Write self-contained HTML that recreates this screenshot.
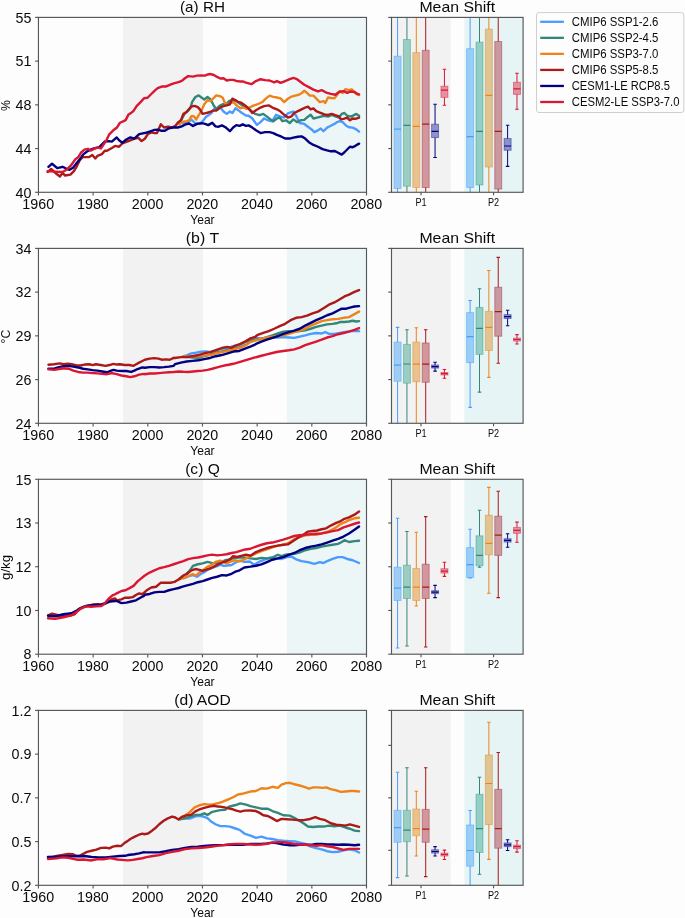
<!DOCTYPE html><html><head><meta charset="utf-8"><style>html,body{margin:0;padding:0;background:#fdfdfd;width:685px;height:918px;overflow:hidden}svg{display:block}text{font-family:"Liberation Sans",sans-serif;fill:#0a0a0a}</style></head><body>
<svg style="will-change:transform" width="685" height="918" viewBox="0 0 685 918">
<rect width="685" height="918" fill="#fdfdfd"/>
<defs>
<clipPath id="cl0"><rect x="38.45" y="17.4" width="328.05" height="174.9"/></clipPath>
<clipPath id="cb0"><rect x="391.5" y="17.4" width="131.6" height="174.9"/></clipPath>
<clipPath id="cl1"><rect x="38.45" y="248.4" width="328.05" height="174.9"/></clipPath>
<clipPath id="cb1"><rect x="391.5" y="248.4" width="131.6" height="174.9"/></clipPath>
<clipPath id="cl2"><rect x="38.45" y="479.3" width="328.05" height="174.9"/></clipPath>
<clipPath id="cb2"><rect x="391.5" y="479.3" width="131.6" height="174.9"/></clipPath>
<clipPath id="cl3"><rect x="38.45" y="710.4" width="328.05" height="174.9"/></clipPath>
<clipPath id="cb3"><rect x="391.5" y="710.4" width="131.6" height="174.9"/></clipPath>
</defs>
<rect x="123.1" y="17.4" width="79.8" height="174.9" fill="#f2f2f2"/>
<rect x="286.9" y="17.4" width="79.6" height="174.9" fill="#edf6f7"/>
<g clip-path="url(#cl0)" fill="none" stroke-width="2.4" stroke-linejoin="round" stroke-linecap="round">
<path d="M183.36 123.51 L187.37 122.7 L191.39 119.49 L195.4 123.51 L200.22 123.51 L203.43 120.3 L205.84 117.08 L209.05 114.67 L211.46 113.07 L213.87 109.05 L217.08 108.25 L220.3 107.45 L223.51 111.46 L226.72 113.87 L229.93 111.46 L232.34 113.07 L235.55 108.25 L238.76 110.66 L241.98 113.07 L245.99 115.48 L248.65 115.73 L252.3 118.47 L256.86 124.85 L260.51 122.12 L264.16 118.47 L267.81 120.29 L272.37 121.2 L276.02 114.82 L280.58 116.64 L284.23 117.55 L287.88 113.36 L291.53 112.08 L293.36 111.53 L296.09 115.73 L299.74 123.03 L304.31 123.94 L307.96 126.68 L311.61 129.42 L314.34 132.15 L317.99 130.33 L320.73 128.5 L323.47 131.24 L327.12 127.59 L330.77 125.77 L334.42 123.94 L337.15 122.12 L339.89 121.2 L342.63 122.12 L346.28 125.77 L349.01 127.23 L352.66 127.59 L356.31 129.42 L359.05 131.61" stroke="#4b9bff"/>
<path d="M180.95 120.3 L184.97 113.07 L188.18 110.66 L190.59 107.45 L192.19 101.83 L195.4 97.01 L198.62 95.4 L201.83 97.81 L204.24 99.42 L207.45 97.01 L210.66 99.42 L213.87 105.84 L216.28 109.05 L219.49 105.84 L222.7 104.24 L225.92 104.24 L229.13 101.02 L233.14 100.22 L236.35 101.02 L239.57 103.43 L242.78 105.84 L245.99 106.65 L250.47 110.26 L255.04 113.91 L259.6 115.18 L263.25 113.91 L266.9 116.64 L270.55 119.38 L273.28 121.2 L276.93 118.47 L279.67 117.55 L282.41 121.2 L286.06 120.29 L289.71 123.03 L293.36 119.38 L297.01 122.12 L300.66 120.29 L304.31 119.93 L307.96 116.64 L310.69 114.82 L313.43 118.47 L317.08 117.55 L320.73 116.64 L324.38 115.73 L328.03 116.64 L331.68 114.82 L335.33 116.28 L338.98 117.55 L341.72 113.91 L344.45 112.99 L347.19 115.73 L350.84 116.64 L354.49 114.82 L356.31 113.91 L359.05 115.73" stroke="#32877a"/>
<path d="M179.34 124.31 L182.56 121.9 L186.57 121.1 L188.98 120.3 L191.39 116.28 L193.8 116.28 L196.21 119.49 L198.62 115.48 L201.83 109.86 L204.24 104.24 L207.45 100.22 L210.66 101.02 L213.87 97.81 L216.28 95.4 L220.3 96.21 L222.7 97.81 L225.11 103.43 L227.52 105.04 L230.73 102.63 L233.95 102.63 L237.16 105.84 L240.37 108.25 L243.58 107.45 L246.79 109.05 L249.56 107.52 L253.21 105.69 L257.77 104.23 L262.34 102.04 L265.99 98.39 L269.64 95.66 L273.28 96.93 L276.93 97.48 L280.58 98.39 L284.23 102.04 L287.88 98.76 L291.53 96.57 L295.18 95.66 L298.83 94.74 L301.57 93.28 L304.31 90.73 L307.04 92.92 L309.78 95.66 L313.43 95.66 L317.08 99.31 L319.82 102.04 L323.47 101.13 L325.29 102.96 L328.03 97.48 L330.77 98.03 L334.42 98.39 L337.15 94.74 L339.89 91.09 L342.63 92.92 L345.36 89.27 L349.01 90.18 L351.75 89.27 L354.49 92.01 L356.31 93.83 L359.05 95.11" stroke="#ee8419"/>
<path d="M47.63 172.04 L51.13 168.98 L56.39 173.79 L59.89 176.42 L62.52 172.92 L65.15 175.55 L70.4 174.67 L73.9 171.17 L76.53 166.79 L80.04 159.78 L82.66 157.15 L88.79 157.15 L92.3 154.96 L95.36 158.47 L97.55 155.84 L101.93 154.09 L105 150.58 L107.05 150.73 L111.87 148 L115.08 145.92 L119.1 146.72 L122.31 143.51 L126.33 141.9 L130.34 140.3 L134.35 138.69 L138.37 137.89 L141.58 141.1 L144.82 138.76 L148.03 133.95 L151.24 132.34 L154.45 133.14 L156.86 133.14 L160.88 124.31 L164.09 127.52 L168.1 126.72 L172.12 127.52 L175.33 125.92 L177.74 122.7 L180.95 120.3 L183.36 113.87 L186.57 112.27 L188.98 109.05 L191.39 106.65 L194.6 105.84 L197.81 107.13 L200.22 109.86 L202.63 113.87 L205.84 113.07 L209.05 112.27 L213.07 110.66 L216.28 110.66 L220.3 107.45 L223.51 106.16 L227.52 105.04 L229.93 104.24 L232.34 98.62 L234.75 99.74 L237.96 101.83 L241.17 102.63 L244.38 105.04 L248.65 108.43 L252.3 112.99 L255.95 110.26 L260.51 107.52 L264.16 106.06 L268.72 105.33 L272.37 107.52 L276.93 109.34 L280.58 111.53 L284.23 114.82 L287.88 117.55 L291.53 116.28 L294.27 112.99 L297.92 111.17 L301.57 109.34 L305.22 107.52 L307.96 106.61 L310.69 109.34 L313.43 108.43 L316.17 111.17 L319.82 112.63 L324.38 114.45 L328.03 114.82 L331.68 113.91 L335.33 115.18 L338.98 116.28 L340.8 119.38 L343.54 118.83 L347.19 117.55 L349.93 120.29 L352.66 118.47 L355.4 118.83 L359.05 117.55" stroke="#ac1919"/>
<path d="M48.44 166.79 L48.5 166.79 L52.01 163.72 L57.26 168.1 L62.52 166.79 L66.02 168.54 L69.52 169.85 L73.03 167.66 L76.53 163.28 L80.04 158.9 L83.54 154.09 L87.04 151.46 L90.55 149.71 L94.05 148.39 L99.3 147.08 L105 141.39 L108.66 141.1 L111.87 141.58 L116.69 137.4 L119.1 140.3 L122.31 142.7 L126.33 139.49 L130.34 137.4 L134.35 138.69 L139.17 134.19 L143.99 133.07 L144.82 133.14 L149.64 131.54 L154.45 129.93 L157.67 129.61 L160.88 130.73 L164.89 130.73 L168.91 128.33 L172.92 127.52 L177.74 127.52 L181.75 126.4 L185.77 124.31 L188.98 123.51 L193 125.92 L197.01 123.83 L201.83 123.19 L205.04 123.83 L208.25 125.11 L212.27 122.7 L215.48 126.4 L218.69 126.72 L221.9 125.43 L225.92 127.52 L229.93 131.22 L233.14 127.52 L236.35 125.11 L239.57 125.92 L242.78 124.31 L245.99 125.92 L248.65 125.4 L252.3 127.59 L255.95 130.33 L260.51 133.07 L265.07 132.15 L269.64 132.15 L273.28 133.07 L276.93 134.89 L281.5 136.72 L285.15 138.54 L289.71 138.54 L293.36 137.63 L297.92 136.72 L301.57 136.35 L305.22 138.54 L308.87 142.19 L313.43 144.93 L317.99 146.75 L322.55 149.12 L327.12 150.4 L330.77 151.31 L334.42 150.95 L337.15 152.23 L341.72 154.6 L344.45 152.23 L347.19 149.49 L349.93 146.75 L352.66 147.3 L355.4 145.84 L359.05 143.65" stroke="#020080"/>
<path d="M47.63 171.17 L53.76 171.6 L62.52 172.04 L66.9 169.41 L71.28 165.04 L75.66 158.9 L78.28 157.15 L80.91 152.77 L84.41 149.71 L87.92 148.83 L90.55 150.58 L94.05 148.83 L97.55 147.52 L101.06 148.39 L105 142.26 L105.45 142.22 L108.66 135.48 L109.01 134.56 L112.52 131.06 L116.9 127.55 L119.96 122.74 L123.03 121.42 L125.66 120.11 L128.28 114.85 L130.91 113.1 L133.54 110.91 L136.6 106.09 L140.55 102.15 L144.05 98.21 L147.55 97.77 L151.06 94.27 L155 90.33 L157.67 88.18 L161.68 86.57 L165.69 86.57 L169.71 84.97 L173.72 83.36 L178.54 82.07 L181.75 80.95 L184.97 78.22 L188.18 76.13 L193 76.61 L197.01 75.65 L201.02 75.33 L205.04 75.65 L207.45 74.53 L210.66 74.05 L213.87 75.01 L217.08 76.94 L220.3 78.54 L223.51 78.22 L226.72 80.47 L229.93 79.83 L233.14 79.83 L236.35 80.95 L239.57 81.43 L242.78 81.43 L245.99 82.56 L251.39 84.16 L255.95 81.06 L260.51 79.23 L265.07 80.15 L269.64 80.51 L274.2 82.34 L276.93 81.06 L280.58 82.88 L285.15 81.06 L289.71 79.23 L293.36 77.96 L297.01 79.23 L300.66 81.97 L304.31 84.71 L308.87 87.08 L313.43 89.64 L317.99 91.46 L321.64 90.18 L326.2 92.55 L330.77 93.83 L335.33 94.74 L338.98 92.01 L343.54 91.09 L347.19 92.92 L350.84 91.46 L354.49 92.01 L356.31 93.28 L359.05 94.38" stroke="#da1632"/>
</g>
<rect x="391.5" y="17.4" width="59.2" height="174.9" fill="#f2f2f2"/>
<rect x="464.3" y="17.4" width="58.8" height="174.9" fill="#e6f4f5"/>
<g clip-path="url(#cb0)">
<line x1="397.57" y1="12.4" x2="397.57" y2="56.2" stroke="#4b9bff" stroke-width="1"/>
<line x1="397.57" y1="188.5" x2="397.57" y2="197.3" stroke="#4b9bff" stroke-width="1"/>
<rect x="394.07" y="56.2" width="7" height="132.3" fill="rgb(37,150,250)" fill-opacity="0.4" stroke="rgb(37,150,250)" stroke-opacity="0.4" stroke-width="1"/>
<line x1="394.07" y1="129.1" x2="401.07" y2="129.1" stroke="#4b9bff" stroke-width="1.2"/>
<line x1="406.94" y1="12.4" x2="406.94" y2="39.5" stroke="#32877a" stroke-width="1"/>
<line x1="406.94" y1="186.2" x2="406.94" y2="197.3" stroke="#32877a" stroke-width="1"/>
<rect x="403.44" y="39.5" width="7" height="146.7" fill="rgb(25,150,125)" fill-opacity="0.4" stroke="rgb(25,150,125)" stroke-opacity="0.4" stroke-width="1"/>
<line x1="403.44" y1="125.4" x2="410.44" y2="125.4" stroke="#32877a" stroke-width="1.2"/>
<line x1="416.31" y1="12.4" x2="416.31" y2="52.6" stroke="#ee8419" stroke-width="1"/>
<line x1="416.31" y1="187.5" x2="416.31" y2="197.3" stroke="#ee8419" stroke-width="1"/>
<rect x="412.81" y="52.6" width="7" height="134.9" fill="rgb(217,125,0)" fill-opacity="0.4" stroke="rgb(217,125,0)" stroke-opacity="0.4" stroke-width="1"/>
<line x1="412.81" y1="126.4" x2="419.81" y2="126.4" stroke="#ee8419" stroke-width="1.2"/>
<line x1="425.69" y1="12.4" x2="425.69" y2="50.3" stroke="#ac1919" stroke-width="1"/>
<line x1="425.69" y1="187.5" x2="425.69" y2="197.3" stroke="#ac1919" stroke-width="1"/>
<rect x="422.19" y="50.3" width="7" height="137.2" fill="rgb(157,17,32)" fill-opacity="0.4" stroke="rgb(157,17,32)" stroke-opacity="0.4" stroke-width="1"/>
<line x1="422.19" y1="124.2" x2="429.19" y2="124.2" stroke="#ac1919" stroke-width="1.2"/>
<line x1="435.06" y1="104.2" x2="435.06" y2="124.2" stroke="#020080" stroke-width="1"/>
<line x1="435.06" y1="137.5" x2="435.06" y2="157.5" stroke="#020080" stroke-width="1"/>
<line x1="433.31" y1="104.2" x2="436.81" y2="104.2" stroke="#020080" stroke-width="1.1"/>
<line x1="433.31" y1="157.5" x2="436.81" y2="157.5" stroke="#020080" stroke-width="1.1"/>
<rect x="431.56" y="124.2" width="7" height="13.3" fill="rgb(0,0,137)" fill-opacity="0.4" stroke="rgb(0,0,137)" stroke-opacity="0.4" stroke-width="1"/>
<line x1="431.56" y1="131.3" x2="438.56" y2="131.3" stroke="#020080" stroke-width="1.2"/>
<line x1="444.43" y1="69.3" x2="444.43" y2="86.2" stroke="#da1632" stroke-width="1"/>
<line x1="444.43" y1="97.4" x2="444.43" y2="105.2" stroke="#da1632" stroke-width="1"/>
<line x1="442.68" y1="69.3" x2="446.18" y2="69.3" stroke="#da1632" stroke-width="1.1"/>
<line x1="442.68" y1="105.2" x2="446.18" y2="105.2" stroke="#da1632" stroke-width="1.1"/>
<rect x="440.93" y="86.2" width="7" height="11.2" fill="rgb(212,0,37)" fill-opacity="0.4" stroke="rgb(212,0,37)" stroke-opacity="0.4" stroke-width="1"/>
<line x1="440.93" y1="90.1" x2="447.93" y2="90.1" stroke="#da1632" stroke-width="1.2"/>
<line x1="470.12" y1="12.4" x2="470.12" y2="48.7" stroke="#4b9bff" stroke-width="1"/>
<line x1="470.12" y1="187.5" x2="470.12" y2="197.3" stroke="#4b9bff" stroke-width="1"/>
<rect x="466.62" y="48.7" width="7" height="138.8" fill="rgb(37,150,250)" fill-opacity="0.4" stroke="rgb(37,150,250)" stroke-opacity="0.4" stroke-width="1"/>
<line x1="466.62" y1="136.6" x2="473.62" y2="136.6" stroke="#4b9bff" stroke-width="1.2"/>
<line x1="479.5" y1="12.4" x2="479.5" y2="42.1" stroke="#32877a" stroke-width="1"/>
<line x1="479.5" y1="185" x2="479.5" y2="197.3" stroke="#32877a" stroke-width="1"/>
<rect x="476" y="42.1" width="7" height="142.9" fill="rgb(25,150,125)" fill-opacity="0.4" stroke="rgb(25,150,125)" stroke-opacity="0.4" stroke-width="1"/>
<line x1="476" y1="131.3" x2="483" y2="131.3" stroke="#32877a" stroke-width="1.2"/>
<line x1="488.87" y1="12.4" x2="488.87" y2="29.1" stroke="#ee8419" stroke-width="1"/>
<line x1="488.87" y1="167" x2="488.87" y2="197.3" stroke="#ee8419" stroke-width="1"/>
<rect x="485.37" y="29.1" width="7" height="137.9" fill="rgb(217,125,0)" fill-opacity="0.4" stroke="rgb(217,125,0)" stroke-opacity="0.4" stroke-width="1"/>
<line x1="485.37" y1="95.4" x2="492.37" y2="95.4" stroke="#ee8419" stroke-width="1.2"/>
<line x1="498.24" y1="12.4" x2="498.24" y2="41.5" stroke="#ac1919" stroke-width="1"/>
<line x1="498.24" y1="189.1" x2="498.24" y2="197.3" stroke="#ac1919" stroke-width="1"/>
<rect x="494.74" y="41.5" width="7" height="147.6" fill="rgb(157,17,32)" fill-opacity="0.4" stroke="rgb(157,17,32)" stroke-opacity="0.4" stroke-width="1"/>
<line x1="494.74" y1="131.3" x2="501.74" y2="131.3" stroke="#ac1919" stroke-width="1.2"/>
<line x1="507.61" y1="125.2" x2="507.61" y2="138.5" stroke="#020080" stroke-width="1"/>
<line x1="507.61" y1="150.3" x2="507.61" y2="166.4" stroke="#020080" stroke-width="1"/>
<line x1="505.86" y1="125.2" x2="509.36" y2="125.2" stroke="#020080" stroke-width="1.1"/>
<line x1="505.86" y1="166.4" x2="509.36" y2="166.4" stroke="#020080" stroke-width="1.1"/>
<rect x="504.11" y="138.5" width="7" height="11.8" fill="rgb(0,0,137)" fill-opacity="0.4" stroke="rgb(0,0,137)" stroke-opacity="0.4" stroke-width="1"/>
<line x1="504.11" y1="146" x2="511.11" y2="146" stroke="#020080" stroke-width="1.2"/>
<line x1="516.98" y1="73.2" x2="516.98" y2="82.3" stroke="#da1632" stroke-width="1"/>
<line x1="516.98" y1="94.4" x2="516.98" y2="109.3" stroke="#da1632" stroke-width="1"/>
<line x1="515.23" y1="73.2" x2="518.73" y2="73.2" stroke="#da1632" stroke-width="1.1"/>
<line x1="515.23" y1="109.3" x2="518.73" y2="109.3" stroke="#da1632" stroke-width="1.1"/>
<rect x="513.48" y="82.3" width="7" height="12.1" fill="rgb(212,0,37)" fill-opacity="0.4" stroke="rgb(212,0,37)" stroke-opacity="0.4" stroke-width="1"/>
<line x1="513.48" y1="88.9" x2="520.48" y2="88.9" stroke="#da1632" stroke-width="1.2"/>
</g>
<g stroke="#555858" stroke-width="1.15" fill="none">
<rect x="38.45" y="17.4" width="328.05" height="174.9"/>
<rect x="391.5" y="17.4" width="131.6" height="174.9"/>
<line x1="35.15" y1="17.4" x2="38.45" y2="17.4"/>
<line x1="388.2" y1="17.4" x2="391.5" y2="17.4"/>
<line x1="35.15" y1="61.12" x2="38.45" y2="61.12"/>
<line x1="388.2" y1="61.12" x2="391.5" y2="61.12"/>
<line x1="35.15" y1="104.85" x2="38.45" y2="104.85"/>
<line x1="388.2" y1="104.85" x2="391.5" y2="104.85"/>
<line x1="35.15" y1="148.58" x2="38.45" y2="148.58"/>
<line x1="388.2" y1="148.58" x2="391.5" y2="148.58"/>
<line x1="35.15" y1="192.3" x2="38.45" y2="192.3"/>
<line x1="388.2" y1="192.3" x2="391.5" y2="192.3"/>
<line x1="38.45" y1="192.3" x2="38.45" y2="195.5"/>
<line x1="93.12" y1="192.3" x2="93.12" y2="195.5"/>
<line x1="147.8" y1="192.3" x2="147.8" y2="195.5"/>
<line x1="202.48" y1="192.3" x2="202.48" y2="195.5"/>
<line x1="257.15" y1="192.3" x2="257.15" y2="195.5"/>
<line x1="311.82" y1="192.3" x2="311.82" y2="195.5"/>
<line x1="366.5" y1="192.3" x2="366.5" y2="195.5"/>
<line x1="421" y1="192.3" x2="421" y2="195.3"/>
<line x1="493.55" y1="192.3" x2="493.55" y2="195.3"/>
</g>
<text x="202.47" y="11.9" text-anchor="middle" font-size="14.91" textLength="44.84" lengthAdjust="spacingAndGlyphs">(a) RH</text>
<text x="457.3" y="11.9" text-anchor="middle" font-size="14.91" textLength="75.73" lengthAdjust="spacingAndGlyphs">Mean Shift</text>
<text x="31.5" y="197.5" text-anchor="end" font-size="14" textLength="15.91" lengthAdjust="spacingAndGlyphs">40</text>
<text x="31.5" y="153.78" text-anchor="end" font-size="14" textLength="15.91" lengthAdjust="spacingAndGlyphs">44</text>
<text x="31.5" y="110.05" text-anchor="end" font-size="14" textLength="15.91" lengthAdjust="spacingAndGlyphs">48</text>
<text x="31.5" y="66.33" text-anchor="end" font-size="14" textLength="15.91" lengthAdjust="spacingAndGlyphs">51</text>
<text x="31.5" y="22.6" text-anchor="end" font-size="14" textLength="15.91" lengthAdjust="spacingAndGlyphs">55</text>
<text x="38.25" y="208.8" text-anchor="middle" font-size="14" textLength="31.81" lengthAdjust="spacingAndGlyphs">1960</text>
<text x="92.92" y="208.8" text-anchor="middle" font-size="14" textLength="31.81" lengthAdjust="spacingAndGlyphs">1980</text>
<text x="147.6" y="208.8" text-anchor="middle" font-size="14" textLength="31.81" lengthAdjust="spacingAndGlyphs">2000</text>
<text x="202.28" y="208.8" text-anchor="middle" font-size="14" textLength="31.81" lengthAdjust="spacingAndGlyphs">2020</text>
<text x="256.95" y="208.8" text-anchor="middle" font-size="14" textLength="31.81" lengthAdjust="spacingAndGlyphs">2040</text>
<text x="311.62" y="208.8" text-anchor="middle" font-size="14" textLength="31.81" lengthAdjust="spacingAndGlyphs">2060</text>
<text x="366.3" y="208.8" text-anchor="middle" font-size="14" textLength="31.81" lengthAdjust="spacingAndGlyphs">2080</text>
<text x="421" y="206.1" text-anchor="middle" font-size="11.7" textLength="11.15" lengthAdjust="spacingAndGlyphs">P1</text>
<text x="493.55" y="206.1" text-anchor="middle" font-size="11.7" textLength="11.15" lengthAdjust="spacingAndGlyphs">P2</text>
<text x="202.47" y="223.8" text-anchor="middle" font-size="12.1" textLength="24.3" lengthAdjust="spacingAndGlyphs">Year</text>
<g transform="translate(9.7 105.6) rotate(-90)"><text x="0" y="0" text-anchor="middle" font-size="11.86" textLength="10.83" lengthAdjust="spacingAndGlyphs">%</text></g>
<rect x="123.1" y="248.4" width="79.8" height="174.9" fill="#f2f2f2"/>
<rect x="286.9" y="248.4" width="79.6" height="174.9" fill="#edf6f7"/>
<g clip-path="url(#cl1)" fill="none" stroke-width="2.4" stroke-linejoin="round" stroke-linecap="round">
<path d="M183.36 356.21 L186.57 355.4 L191.39 353.48 L196.21 352.67 L201.02 351.71 L205.84 351.39 L210.66 352.19 L215.48 350.59 L220.3 348.98 L225.11 348.18 L229.93 347.05 L234.75 345.77 L239.57 344.64 L244.38 342.56 L250.47 338.43 L255.95 337.88 L261.42 338.43 L266.9 338.98 L272.37 337.88 L277.85 337.52 L283.32 337.15 L288.8 337.52 L294.27 337.88 L299.74 336.61 L305.22 335.33 L310.69 333.87 L316.17 332.96 L321.64 333.5 L325.29 332.04 L328.94 333.87 L334.42 333.87 L339.89 332.96 L345.36 332.04 L350.84 331.13 L354.49 331.13 L359.05 331.13" stroke="#4b9bff"/>
<path d="M183.36 356.85 L188.18 357.01 L193 357.49 L197.81 357.81 L202.63 356.53 L207.45 355.4 L212.27 353.8 L217.08 352.19 L221.9 351.39 L226.72 350.1 L231.54 348.98 L236.35 348.18 L241.17 346.57 L245.99 344.97 L250.47 340.26 L255.95 339.34 L261.42 338.98 L266.9 337.15 L272.37 335.33 L277.85 333.5 L283.32 331.68 L288.8 331.13 L294.27 331.68 L299.74 331.13 L305.22 330.22 L310.69 328.76 L316.17 326.93 L321.64 325.66 L327.12 324.38 L332.59 323.83 L336.24 323.28 L339.89 322.01 L344.45 322.01 L349.01 321.46 L352.66 320.73 L356.31 321.46 L359.05 321.09" stroke="#32877a"/>
<path d="M183.36 356.53 L188.18 356.53 L193 356.21 L197.81 356.21 L202.63 355.89 L207.45 355.4 L212.27 354.6 L217.08 353 L221.9 352.19 L226.72 351.07 L231.54 349.78 L236.35 348.98 L241.17 347.37 L245.99 344.97 L250.47 342.08 L255.95 340.26 L261.42 338.98 L266.9 337.52 L272.37 336.61 L277.85 336.06 L283.32 335.33 L288.8 333.87 L294.27 332.04 L299.74 330.58 L305.22 328.76 L310.69 325.66 L316.17 323.28 L321.64 321.09 L327.12 320.18 L332.59 319.27 L338.07 318.91 L343.54 317.81 L349.01 317.08 L354.49 314.16 L359.05 311.61" stroke="#ee8419"/>
<path d="M48.44 364.72 L54.06 364.24 L59.68 363.43 L63.69 364.24 L67.71 363.75 L71.72 364.24 L76.54 365.52 L80.56 365.52 L84.57 364.56 L89.39 364.24 L92.6 365.04 L95.81 364.24 L100.63 365.04 L105.45 365.84 L109.46 365.04 L113.48 363.92 L116.69 364.56 L119.9 364.24 L124.72 365.04 L129.54 365.04 L133.55 365.84 L137.57 363.43 L142.38 361.02 L144.82 359.74 L149.64 358.62 L154.45 358.13 L158.47 358.62 L161.68 359.74 L165.69 359.42 L169.71 359.74 L173.72 357.81 L175 357.96 L180.84 357.14 L186.68 357.14 L192.52 356.2 L198.36 355.04 L204.2 353.28 L210.04 352.12 L215.88 350.13 L221.72 348.03 L227.55 346.86 L231.06 347.8 L235.73 345.69 L240.4 343.94 L245.07 341.61 L249.74 338.69 L255 336.93 L257.77 334.78 L263.25 332.96 L268.72 331.13 L274.2 328.76 L279.67 326.2 L285.15 323.83 L290.62 320.18 L296.09 317.81 L301.57 317.08 L307.04 315.62 L312.52 313.43 L317.99 311.61 L323.47 308.32 L328.94 304.67 L334.42 302.48 L339.89 299.2 L344.45 296.46 L349.01 294.64 L354.49 291.9 L359.05 290.07" stroke="#ac1919"/>
<path d="M48.44 368.73 L54.06 368.73 L58.88 367.13 L63.69 366.16 L68.51 365.84 L73.33 366.65 L78.15 367.45 L82.97 368.73 L87.78 369.38 L92.6 370.18 L97.42 370.66 L102.24 371.46 L107.05 372.27 L111.07 370.66 L113.48 369.86 L116.69 370.66 L121.51 370.98 L126.33 370.98 L131.14 371.94 L134.35 370.66 L137.57 369.05 L142.38 367.45 L144.82 367.77 L149.64 367.13 L154.45 367.13 L159.27 367.45 L164.09 367.13 L168.91 366.65 L173.72 365.84 L175 364.15 L180.84 362.63 L186.68 361.46 L192.52 360.88 L198.36 360.29 L204.2 359.12 L210.04 357.96 L215.88 356.2 L221.72 355.04 L227.55 353.28 L233.39 351.53 L239.23 350.95 L245.07 348.61 L250.91 346.28 L255 344.53 L255.95 343.91 L261.42 341.72 L266.9 339.71 L272.37 337.88 L277.85 336.06 L283.32 333.87 L288.8 332.04 L294.27 330.58 L299.74 328.76 L305.22 325.66 L310.69 322.92 L316.17 320.18 L321.64 317.81 L327.12 315.26 L332.59 313.43 L338.07 310.51 L341.72 308.69 L346.28 308.69 L350.84 307.41 L354.49 306.5 L359.05 306.13" stroke="#020080"/>
<path d="M48.44 369.38 L54.06 369.86 L58.88 369.05 L63.69 368.25 L68.51 368.73 L73.33 370.66 L78.15 371.94 L82.97 372.59 L87.78 372.59 L92.6 373.07 L97.42 373.39 L102.24 373.87 L107.05 374.19 L111.87 373.07 L116.69 374.19 L121.51 375.48 L126.33 376.28 L130.34 377.08 L134.35 376.28 L139.17 374.67 L143.99 373.87 L144.82 374.19 L149.64 373.55 L154.45 373.55 L159.27 373.07 L164.09 372.59 L168.91 372.27 L173.72 371.94 L178.54 371.46 L183.36 371.78 L188.18 371.94 L193 371.46 L197.81 370.98 L202.63 370.66 L207.45 369.86 L212.27 368.73 L217.08 367.45 L221.9 366.16 L226.72 365.04 L227.55 364.96 L233.39 363.8 L239.23 362.04 L245.07 360.29 L250.91 358.54 L255 357.37 L255.95 357.23 L261.42 355.77 L266.9 354.31 L272.37 353.03 L277.85 351.75 L283.32 351.02 L288.8 350.29 L294.27 349.38 L299.74 347.55 L305.22 345.18 L310.69 343.36 L316.17 341.53 L321.64 339.71 L327.12 337.52 L332.59 336.06 L338.07 334.23 L343.54 332.96 L349.01 331.68 L354.49 329.85 L359.05 328.03" stroke="#da1632"/>
</g>
<rect x="391.5" y="248.4" width="59.2" height="174.9" fill="#f2f2f2"/>
<rect x="464.3" y="248.4" width="58.8" height="174.9" fill="#e6f4f5"/>
<g clip-path="url(#cb1)">
<line x1="397.57" y1="327.4" x2="397.57" y2="342.1" stroke="#4b9bff" stroke-width="1"/>
<line x1="397.57" y1="381.3" x2="397.57" y2="428.3" stroke="#4b9bff" stroke-width="1"/>
<line x1="395.82" y1="327.4" x2="399.32" y2="327.4" stroke="#4b9bff" stroke-width="1.1"/>
<rect x="394.07" y="342.1" width="7" height="39.2" fill="rgb(37,150,250)" fill-opacity="0.4" stroke="rgb(37,150,250)" stroke-opacity="0.4" stroke-width="1"/>
<line x1="394.07" y1="365.2" x2="401.07" y2="365.2" stroke="#4b9bff" stroke-width="1.2"/>
<line x1="406.94" y1="329.7" x2="406.94" y2="344.4" stroke="#32877a" stroke-width="1"/>
<line x1="406.94" y1="383.2" x2="406.94" y2="428.3" stroke="#32877a" stroke-width="1"/>
<line x1="405.19" y1="329.7" x2="408.69" y2="329.7" stroke="#32877a" stroke-width="1.1"/>
<rect x="403.44" y="344.4" width="7" height="38.8" fill="rgb(25,150,125)" fill-opacity="0.4" stroke="rgb(25,150,125)" stroke-opacity="0.4" stroke-width="1"/>
<line x1="403.44" y1="364" x2="410.44" y2="364" stroke="#32877a" stroke-width="1.2"/>
<line x1="416.31" y1="327.7" x2="416.31" y2="342.1" stroke="#ee8419" stroke-width="1"/>
<line x1="416.31" y1="381.7" x2="416.31" y2="428.3" stroke="#ee8419" stroke-width="1"/>
<line x1="414.56" y1="327.7" x2="418.06" y2="327.7" stroke="#ee8419" stroke-width="1.1"/>
<rect x="412.81" y="342.1" width="7" height="39.6" fill="rgb(217,125,0)" fill-opacity="0.4" stroke="rgb(217,125,0)" stroke-opacity="0.4" stroke-width="1"/>
<line x1="412.81" y1="364.2" x2="419.81" y2="364.2" stroke="#ee8419" stroke-width="1.2"/>
<line x1="425.69" y1="329.7" x2="425.69" y2="343" stroke="#ac1919" stroke-width="1"/>
<line x1="425.69" y1="382.3" x2="425.69" y2="428.3" stroke="#ac1919" stroke-width="1"/>
<line x1="423.94" y1="329.7" x2="427.44" y2="329.7" stroke="#ac1919" stroke-width="1.1"/>
<rect x="422.19" y="343" width="7" height="39.3" fill="rgb(157,17,32)" fill-opacity="0.4" stroke="rgb(157,17,32)" stroke-opacity="0.4" stroke-width="1"/>
<line x1="422.19" y1="364.2" x2="429.19" y2="364.2" stroke="#ac1919" stroke-width="1.2"/>
<line x1="435.06" y1="362.3" x2="435.06" y2="365" stroke="#020080" stroke-width="1"/>
<line x1="435.06" y1="368.1" x2="435.06" y2="371.1" stroke="#020080" stroke-width="1"/>
<line x1="433.31" y1="362.3" x2="436.81" y2="362.3" stroke="#020080" stroke-width="1.1"/>
<line x1="433.31" y1="371.1" x2="436.81" y2="371.1" stroke="#020080" stroke-width="1.1"/>
<rect x="431.56" y="365" width="7" height="3.1" fill="rgb(0,0,137)" fill-opacity="0.4" stroke="rgb(0,0,137)" stroke-opacity="0.4" stroke-width="1"/>
<line x1="431.56" y1="366.6" x2="438.56" y2="366.6" stroke="#020080" stroke-width="1.2"/>
<line x1="444.43" y1="369.5" x2="444.43" y2="372.5" stroke="#da1632" stroke-width="1"/>
<line x1="444.43" y1="375" x2="444.43" y2="378.3" stroke="#da1632" stroke-width="1"/>
<line x1="442.68" y1="369.5" x2="446.18" y2="369.5" stroke="#da1632" stroke-width="1.1"/>
<line x1="442.68" y1="378.3" x2="446.18" y2="378.3" stroke="#da1632" stroke-width="1.1"/>
<rect x="440.93" y="372.5" width="7" height="2.5" fill="rgb(212,0,37)" fill-opacity="0.4" stroke="rgb(212,0,37)" stroke-opacity="0.4" stroke-width="1"/>
<line x1="440.93" y1="373.6" x2="447.93" y2="373.6" stroke="#da1632" stroke-width="1.2"/>
<line x1="470.12" y1="300.5" x2="470.12" y2="312.6" stroke="#4b9bff" stroke-width="1"/>
<line x1="470.12" y1="362.6" x2="470.12" y2="407.4" stroke="#4b9bff" stroke-width="1"/>
<line x1="468.38" y1="300.5" x2="471.88" y2="300.5" stroke="#4b9bff" stroke-width="1.1"/>
<line x1="468.38" y1="407.4" x2="471.88" y2="407.4" stroke="#4b9bff" stroke-width="1.1"/>
<rect x="466.62" y="312.6" width="7" height="50" fill="rgb(37,150,250)" fill-opacity="0.4" stroke="rgb(37,150,250)" stroke-opacity="0.4" stroke-width="1"/>
<line x1="466.62" y1="336.6" x2="473.62" y2="336.6" stroke="#4b9bff" stroke-width="1.2"/>
<line x1="479.5" y1="288.7" x2="479.5" y2="307.4" stroke="#32877a" stroke-width="1"/>
<line x1="479.5" y1="354.4" x2="479.5" y2="392.1" stroke="#32877a" stroke-width="1"/>
<line x1="477.75" y1="288.7" x2="481.25" y2="288.7" stroke="#32877a" stroke-width="1.1"/>
<line x1="477.75" y1="392.1" x2="481.25" y2="392.1" stroke="#32877a" stroke-width="1.1"/>
<rect x="476" y="307.4" width="7" height="47" fill="rgb(25,150,125)" fill-opacity="0.4" stroke="rgb(25,150,125)" stroke-opacity="0.4" stroke-width="1"/>
<line x1="476" y1="328.3" x2="483" y2="328.3" stroke="#32877a" stroke-width="1.2"/>
<line x1="488.87" y1="270.5" x2="488.87" y2="311.3" stroke="#ee8419" stroke-width="1"/>
<line x1="488.87" y1="350.5" x2="488.87" y2="377.4" stroke="#ee8419" stroke-width="1"/>
<line x1="487.12" y1="270.5" x2="490.62" y2="270.5" stroke="#ee8419" stroke-width="1.1"/>
<line x1="487.12" y1="377.4" x2="490.62" y2="377.4" stroke="#ee8419" stroke-width="1.1"/>
<rect x="485.37" y="311.3" width="7" height="39.2" fill="rgb(217,125,0)" fill-opacity="0.4" stroke="rgb(217,125,0)" stroke-opacity="0.4" stroke-width="1"/>
<line x1="485.37" y1="327.4" x2="492.37" y2="327.4" stroke="#ee8419" stroke-width="1.2"/>
<line x1="498.24" y1="257.4" x2="498.24" y2="287.2" stroke="#ac1919" stroke-width="1"/>
<line x1="498.24" y1="336.2" x2="498.24" y2="363.2" stroke="#ac1919" stroke-width="1"/>
<line x1="496.49" y1="257.4" x2="499.99" y2="257.4" stroke="#ac1919" stroke-width="1.1"/>
<line x1="496.49" y1="363.2" x2="499.99" y2="363.2" stroke="#ac1919" stroke-width="1.1"/>
<rect x="494.74" y="287.2" width="7" height="49" fill="rgb(157,17,32)" fill-opacity="0.4" stroke="rgb(157,17,32)" stroke-opacity="0.4" stroke-width="1"/>
<line x1="494.74" y1="311.7" x2="501.74" y2="311.7" stroke="#ac1919" stroke-width="1.2"/>
<line x1="507.61" y1="310.3" x2="507.61" y2="314.6" stroke="#020080" stroke-width="1"/>
<line x1="507.61" y1="318.5" x2="507.61" y2="325.8" stroke="#020080" stroke-width="1"/>
<line x1="505.86" y1="310.3" x2="509.36" y2="310.3" stroke="#020080" stroke-width="1.1"/>
<line x1="505.86" y1="325.8" x2="509.36" y2="325.8" stroke="#020080" stroke-width="1.1"/>
<rect x="504.11" y="314.6" width="7" height="3.9" fill="rgb(0,0,137)" fill-opacity="0.4" stroke="rgb(0,0,137)" stroke-opacity="0.4" stroke-width="1"/>
<line x1="504.11" y1="316.6" x2="511.11" y2="316.6" stroke="#020080" stroke-width="1.2"/>
<line x1="516.98" y1="334.6" x2="516.98" y2="338.1" stroke="#da1632" stroke-width="1"/>
<line x1="516.98" y1="341.1" x2="516.98" y2="344" stroke="#da1632" stroke-width="1"/>
<line x1="515.23" y1="334.6" x2="518.73" y2="334.6" stroke="#da1632" stroke-width="1.1"/>
<line x1="515.23" y1="344" x2="518.73" y2="344" stroke="#da1632" stroke-width="1.1"/>
<rect x="513.48" y="338.1" width="7" height="3" fill="rgb(212,0,37)" fill-opacity="0.4" stroke="rgb(212,0,37)" stroke-opacity="0.4" stroke-width="1"/>
<line x1="513.48" y1="339.5" x2="520.48" y2="339.5" stroke="#da1632" stroke-width="1.2"/>
</g>
<g stroke="#555858" stroke-width="1.15" fill="none">
<rect x="38.45" y="248.4" width="328.05" height="174.9"/>
<rect x="391.5" y="248.4" width="131.6" height="174.9"/>
<line x1="35.15" y1="248.4" x2="38.45" y2="248.4"/>
<line x1="388.2" y1="248.4" x2="391.5" y2="248.4"/>
<line x1="35.15" y1="292.12" x2="38.45" y2="292.12"/>
<line x1="388.2" y1="292.12" x2="391.5" y2="292.12"/>
<line x1="35.15" y1="335.85" x2="38.45" y2="335.85"/>
<line x1="388.2" y1="335.85" x2="391.5" y2="335.85"/>
<line x1="35.15" y1="379.58" x2="38.45" y2="379.58"/>
<line x1="388.2" y1="379.58" x2="391.5" y2="379.58"/>
<line x1="35.15" y1="423.3" x2="38.45" y2="423.3"/>
<line x1="388.2" y1="423.3" x2="391.5" y2="423.3"/>
<line x1="38.45" y1="423.3" x2="38.45" y2="426.5"/>
<line x1="93.12" y1="423.3" x2="93.12" y2="426.5"/>
<line x1="147.8" y1="423.3" x2="147.8" y2="426.5"/>
<line x1="202.48" y1="423.3" x2="202.48" y2="426.5"/>
<line x1="257.15" y1="423.3" x2="257.15" y2="426.5"/>
<line x1="311.82" y1="423.3" x2="311.82" y2="426.5"/>
<line x1="366.5" y1="423.3" x2="366.5" y2="426.5"/>
<line x1="421" y1="423.3" x2="421" y2="426.3"/>
<line x1="493.55" y1="423.3" x2="493.55" y2="426.3"/>
</g>
<text x="202.47" y="242.9" text-anchor="middle" font-size="14.91" textLength="33.28" lengthAdjust="spacingAndGlyphs">(b) T</text>
<text x="457.3" y="242.9" text-anchor="middle" font-size="14.91" textLength="75.73" lengthAdjust="spacingAndGlyphs">Mean Shift</text>
<text x="31.5" y="428.5" text-anchor="end" font-size="14" textLength="15.91" lengthAdjust="spacingAndGlyphs">24</text>
<text x="31.5" y="384.77" text-anchor="end" font-size="14" textLength="15.91" lengthAdjust="spacingAndGlyphs">26</text>
<text x="31.5" y="341.05" text-anchor="end" font-size="14" textLength="15.91" lengthAdjust="spacingAndGlyphs">29</text>
<text x="31.5" y="297.32" text-anchor="end" font-size="14" textLength="15.91" lengthAdjust="spacingAndGlyphs">32</text>
<text x="31.5" y="253.6" text-anchor="end" font-size="14" textLength="15.91" lengthAdjust="spacingAndGlyphs">34</text>
<text x="38.25" y="439.8" text-anchor="middle" font-size="14" textLength="31.81" lengthAdjust="spacingAndGlyphs">1960</text>
<text x="92.92" y="439.8" text-anchor="middle" font-size="14" textLength="31.81" lengthAdjust="spacingAndGlyphs">1980</text>
<text x="147.6" y="439.8" text-anchor="middle" font-size="14" textLength="31.81" lengthAdjust="spacingAndGlyphs">2000</text>
<text x="202.28" y="439.8" text-anchor="middle" font-size="14" textLength="31.81" lengthAdjust="spacingAndGlyphs">2020</text>
<text x="256.95" y="439.8" text-anchor="middle" font-size="14" textLength="31.81" lengthAdjust="spacingAndGlyphs">2040</text>
<text x="311.62" y="439.8" text-anchor="middle" font-size="14" textLength="31.81" lengthAdjust="spacingAndGlyphs">2060</text>
<text x="366.3" y="439.8" text-anchor="middle" font-size="14" textLength="31.81" lengthAdjust="spacingAndGlyphs">2080</text>
<text x="421" y="437.1" text-anchor="middle" font-size="11.7" textLength="11.15" lengthAdjust="spacingAndGlyphs">P1</text>
<text x="493.55" y="437.1" text-anchor="middle" font-size="11.7" textLength="11.15" lengthAdjust="spacingAndGlyphs">P2</text>
<text x="202.47" y="454.8" text-anchor="middle" font-size="12.1" textLength="24.3" lengthAdjust="spacingAndGlyphs">Year</text>
<g transform="translate(9.7 336.6) rotate(-90)"><text x="0" y="0" text-anchor="middle" font-size="11.86" textLength="13.66" lengthAdjust="spacingAndGlyphs">°C</text></g>
<rect x="123.1" y="479.3" width="79.8" height="174.9" fill="#f2f2f2"/>
<rect x="286.9" y="479.3" width="79.6" height="174.9" fill="#edf6f7"/>
<g clip-path="url(#cl2)" fill="none" stroke-width="2.4" stroke-linejoin="round" stroke-linecap="round">
<path d="M183.36 578.37 L188.18 576.28 L193 575.16 L197.01 576.76 L200.22 574.19 L204.24 572.27 L208.25 569.38 L212.27 567.77 L217.08 566.16 L220.3 564.56 L223.51 565.84 L227.52 565.52 L231.54 565.04 L234.75 562.95 L239.57 560.7 L244.38 561.83 L249.56 561.53 L254.12 564.82 L259.6 561.53 L265.07 559.34 L270.55 557.88 L276.02 558.43 L281.5 558.98 L286.97 557.15 L291.53 556.61 L296.09 559.34 L301.57 561.17 L307.96 562.08 L314.34 563.91 L319.82 562.08 L323.47 562.99 L327.12 561.17 L332.59 558.98 L338.07 557.15 L342.63 557.15 L347.19 558.98 L352.66 560.26 L359.05 562.99" stroke="#4b9bff"/>
<path d="M186.57 573.87 L189.78 570.66 L193 565.84 L197.81 564.24 L202.63 563.43 L207.45 561.83 L211.46 562.95 L215.48 563.43 L218.69 562.63 L221.9 561.83 L225.11 560.22 L229.93 559.42 L234.75 557.81 L239.57 557.49 L244.38 557.49 L250.47 558.43 L255.95 558.98 L261.42 557.88 L266.9 558.43 L272.37 557.52 L277.85 554.78 L281.5 556.06 L285.15 554.78 L289.71 554.23 L294.27 553.87 L299.74 552.41 L305.22 550.22 L310.69 548.76 L316.17 548.03 L321.64 546.57 L327.12 545.66 L332.59 544.74 L338.07 543.83 L341.72 542.01 L344.45 540.18 L349.01 542.01 L354.49 541.09 L359.05 540.73" stroke="#32877a"/>
<path d="M179.34 579.49 L183.36 577.89 L188.18 576.28 L192.19 574.19 L196.21 575.48 L199.42 572.27 L203.43 569.86 L207.45 566.65 L211.46 565.04 L215.48 561.83 L220.3 560.7 L223.51 561.83 L226.72 563.43 L229.93 561.83 L234.75 560.22 L239.57 561.35 L244.38 559.42 L250.47 556.06 L255.95 553.5 L261.42 551.13 L266.9 549.31 L272.37 547.48 L277.85 545.66 L283.32 544.74 L288.8 542.92 L294.27 539.27 L299.74 537.08 L305.22 535.26 L310.69 534.71 L316.17 534.71 L321.64 533.43 L327.12 531.97 L331.68 529.78 L336.24 527.41 L339.89 524.31 L344.45 522.48 L349.01 520.11 L354.49 518.28 L359.05 517.74" stroke="#ee8419"/>
<path d="M48.07 615.25 L52.15 613.72 L56.24 614.74 L60.33 615.77 L65.44 615.77 L70.55 615.25 L74.63 614.23 L78.72 609.12 L83.83 606.57 L88.94 605.55 L93.03 604.52 L98.14 604.32 L102.22 605.04 L106.31 602.99 L111.42 599.42 L115 598.39 L116.69 600.34 L121.51 599.38 L124.72 597.77 L128.73 597.77 L132.75 597.13 L135.96 595.04 L139.17 593.43 L142.38 594.24 L147.23 589.93 L151.24 587.52 L156.06 586.72 L160.88 582.7 L165.69 582.7 L170.51 582.7 L174.53 581.9 L178.54 579.49 L183.36 575.48 L187.37 573.55 L191.39 570.34 L195.4 569.05 L199.42 569.86 L202.63 570.98 L205.84 569.86 L210.66 568.25 L213.87 566.65 L217.08 565.04 L221.9 562.63 L226.72 561.02 L229.93 559.42 L233.14 556.21 L237.16 557.01 L241.17 555.89 L245.99 554.6 L250.47 555.69 L255.95 552.04 L261.42 549.85 L266.9 548.03 L272.37 546.57 L277.85 545.66 L283.32 544.74 L287.88 544.38 L292.45 541.46 L297.92 537.81 L303.39 534.71 L307.96 531.61 L312.52 531.06 L317.08 530.51 L321.64 529.23 L326.2 528.32 L330.77 525.58 L336.24 522.85 L340.8 521.02 L344.45 518.83 L349.01 517.37 L354.49 514.64 L359.05 511.53" stroke="#ac1919"/>
<path d="M48.07 615.77 L55.22 616.28 L63.39 614.23 L71.57 613.21 L75.66 611.17 L80.77 608.1 L85.87 606.06 L90.98 605.55 L96.09 605.04 L101.2 604.52 L106.31 602.99 L110.4 601.46 L115 600.95 L116.69 600.98 L121.51 603.07 L126.33 602.59 L131.14 601.46 L135.96 600.34 L140.78 597.45 L143.99 595.84 L144.82 594.75 L149.64 593.95 L154.45 592.34 L159.27 591.86 L164.09 591.86 L168.91 590.25 L173.72 589.13 L178.54 588 L183.36 586.4 L188.18 585.11 L193 583.83 L197.81 582.22 L202.63 581.1 L207.45 579.49 L212.27 577.89 L217.08 576.76 L221.9 575.16 L226.72 575.48 L230.73 574.19 L234.75 571.94 L239.57 570.34 L244.38 567.45 L250.47 566.64 L255.95 565.73 L261.42 564.45 L266.9 562.08 L272.37 559.71 L277.85 558.43 L283.32 557.15 L288.8 554.78 L294.27 552.96 L299.74 550.22 L305.22 548.03 L310.69 546.57 L316.17 545.66 L321.64 544.38 L327.12 542.55 L332.59 540.73 L338.07 538.91 L343.54 536.53 L349.01 533.43 L354.49 529.78 L359.05 526.5" stroke="#020080"/>
<path d="M48.07 618.32 L55.22 618.83 L63.39 617.3 L71.57 615.25 L75.66 612.7 L80.77 608.61 L85.87 606.36 L90.98 606.77 L96.09 606.36 L101.2 606.06 L104.27 604.01 L108.36 598.9 L112.44 595.33 L115 594.31 L116.69 593.43 L121.51 591.02 L125.52 590.22 L129.54 588.13 L133.55 585.89 L137.57 581.39 L141.58 578.18 L144.82 575.48 L149.64 572.59 L154.45 570.34 L159.27 568.25 L164.09 567.13 L168.91 565.84 L173.72 564.24 L178.54 562.63 L183.36 561.02 L188.18 559.1 L193 558.13 L197.81 557.49 L202.63 556.53 L207.45 555.4 L212.27 554.6 L217.08 555.4 L221.9 554.92 L226.72 554.28 L231.54 553 L236.35 552.19 L241.17 550.59 L245.19 549.46 L250.47 548.76 L255.95 546.57 L261.42 544.74 L266.9 543.28 L272.37 542.55 L277.85 541.09 L283.32 539.64 L288.8 537.81 L294.27 535.99 L299.74 535.26 L305.22 534.71 L310.69 534.16 L316.17 533.8 L321.64 533.43 L327.12 532.34 L332.59 531.06 L338.07 530.15 L343.54 527.41 L349.01 525.58 L354.49 523.76 L359.05 522.48" stroke="#da1632"/>
</g>
<rect x="391.5" y="479.3" width="59.2" height="174.9" fill="#f2f2f2"/>
<rect x="464.3" y="479.3" width="58.8" height="174.9" fill="#e6f4f5"/>
<g clip-path="url(#cb2)">
<line x1="397.57" y1="518.2" x2="397.57" y2="567.2" stroke="#4b9bff" stroke-width="1"/>
<line x1="397.57" y1="600.5" x2="397.57" y2="648" stroke="#4b9bff" stroke-width="1"/>
<line x1="395.82" y1="518.2" x2="399.32" y2="518.2" stroke="#4b9bff" stroke-width="1.1"/>
<line x1="395.82" y1="648" x2="399.32" y2="648" stroke="#4b9bff" stroke-width="1.1"/>
<rect x="394.07" y="567.2" width="7" height="33.3" fill="rgb(37,150,250)" fill-opacity="0.4" stroke="rgb(37,150,250)" stroke-opacity="0.4" stroke-width="1"/>
<line x1="394.07" y1="588.2" x2="401.07" y2="588.2" stroke="#4b9bff" stroke-width="1.2"/>
<line x1="406.94" y1="531.5" x2="406.94" y2="565.2" stroke="#32877a" stroke-width="1"/>
<line x1="406.94" y1="598.5" x2="406.94" y2="646" stroke="#32877a" stroke-width="1"/>
<line x1="405.19" y1="531.5" x2="408.69" y2="531.5" stroke="#32877a" stroke-width="1.1"/>
<line x1="405.19" y1="646" x2="408.69" y2="646" stroke="#32877a" stroke-width="1.1"/>
<rect x="403.44" y="565.2" width="7" height="33.3" fill="rgb(25,150,125)" fill-opacity="0.4" stroke="rgb(25,150,125)" stroke-opacity="0.4" stroke-width="1"/>
<line x1="403.44" y1="587.2" x2="410.44" y2="587.2" stroke="#32877a" stroke-width="1.2"/>
<line x1="416.31" y1="532.3" x2="416.31" y2="568.5" stroke="#ee8419" stroke-width="1"/>
<line x1="416.31" y1="600.5" x2="416.31" y2="606" stroke="#ee8419" stroke-width="1"/>
<line x1="414.56" y1="532.3" x2="418.06" y2="532.3" stroke="#ee8419" stroke-width="1.1"/>
<line x1="414.56" y1="606" x2="418.06" y2="606" stroke="#ee8419" stroke-width="1.1"/>
<rect x="412.81" y="568.5" width="7" height="32" fill="rgb(217,125,0)" fill-opacity="0.4" stroke="rgb(217,125,0)" stroke-opacity="0.4" stroke-width="1"/>
<line x1="412.81" y1="587.2" x2="419.81" y2="587.2" stroke="#ee8419" stroke-width="1.2"/>
<line x1="425.69" y1="516.6" x2="425.69" y2="564.2" stroke="#ac1919" stroke-width="1"/>
<line x1="425.69" y1="598.5" x2="425.69" y2="647" stroke="#ac1919" stroke-width="1"/>
<line x1="423.94" y1="516.6" x2="427.44" y2="516.6" stroke="#ac1919" stroke-width="1.1"/>
<line x1="423.94" y1="647" x2="427.44" y2="647" stroke="#ac1919" stroke-width="1.1"/>
<rect x="422.19" y="564.2" width="7" height="34.3" fill="rgb(157,17,32)" fill-opacity="0.4" stroke="rgb(157,17,32)" stroke-opacity="0.4" stroke-width="1"/>
<line x1="422.19" y1="587.2" x2="429.19" y2="587.2" stroke="#ac1919" stroke-width="1.2"/>
<line x1="435.06" y1="585.4" x2="435.06" y2="590.7" stroke="#020080" stroke-width="1"/>
<line x1="435.06" y1="593.6" x2="435.06" y2="597.6" stroke="#020080" stroke-width="1"/>
<line x1="433.31" y1="585.4" x2="436.81" y2="585.4" stroke="#020080" stroke-width="1.1"/>
<line x1="433.31" y1="597.6" x2="436.81" y2="597.6" stroke="#020080" stroke-width="1.1"/>
<rect x="431.56" y="590.7" width="7" height="2.9" fill="rgb(0,0,137)" fill-opacity="0.4" stroke="rgb(0,0,137)" stroke-opacity="0.4" stroke-width="1"/>
<line x1="431.56" y1="592.1" x2="438.56" y2="592.1" stroke="#020080" stroke-width="1.2"/>
<line x1="444.43" y1="562.3" x2="444.43" y2="568.7" stroke="#da1632" stroke-width="1"/>
<line x1="444.43" y1="573.1" x2="444.43" y2="576.4" stroke="#da1632" stroke-width="1"/>
<line x1="442.68" y1="562.3" x2="446.18" y2="562.3" stroke="#da1632" stroke-width="1.1"/>
<line x1="442.68" y1="576.4" x2="446.18" y2="576.4" stroke="#da1632" stroke-width="1.1"/>
<rect x="440.93" y="568.7" width="7" height="4.4" fill="rgb(212,0,37)" fill-opacity="0.4" stroke="rgb(212,0,37)" stroke-opacity="0.4" stroke-width="1"/>
<line x1="440.93" y1="571.1" x2="447.93" y2="571.1" stroke="#da1632" stroke-width="1.2"/>
<line x1="470.12" y1="529.3" x2="470.12" y2="547.6" stroke="#4b9bff" stroke-width="1"/>
<line x1="470.12" y1="577.6" x2="470.12" y2="578" stroke="#4b9bff" stroke-width="1"/>
<line x1="468.38" y1="529.3" x2="471.88" y2="529.3" stroke="#4b9bff" stroke-width="1.1"/>
<line x1="468.38" y1="578" x2="471.88" y2="578" stroke="#4b9bff" stroke-width="1.1"/>
<rect x="466.62" y="547.6" width="7" height="30" fill="rgb(37,150,250)" fill-opacity="0.4" stroke="rgb(37,150,250)" stroke-opacity="0.4" stroke-width="1"/>
<line x1="466.62" y1="564.6" x2="473.62" y2="564.6" stroke="#4b9bff" stroke-width="1.2"/>
<line x1="479.5" y1="510.3" x2="479.5" y2="535.8" stroke="#32877a" stroke-width="1"/>
<line x1="479.5" y1="565.8" x2="479.5" y2="567.2" stroke="#32877a" stroke-width="1"/>
<line x1="477.75" y1="510.3" x2="481.25" y2="510.3" stroke="#32877a" stroke-width="1.1"/>
<line x1="477.75" y1="567.2" x2="481.25" y2="567.2" stroke="#32877a" stroke-width="1.1"/>
<rect x="476" y="535.8" width="7" height="30" fill="rgb(25,150,125)" fill-opacity="0.4" stroke="rgb(25,150,125)" stroke-opacity="0.4" stroke-width="1"/>
<line x1="476" y1="555.4" x2="483" y2="555.4" stroke="#32877a" stroke-width="1.2"/>
<line x1="488.87" y1="487.4" x2="488.87" y2="515.2" stroke="#ee8419" stroke-width="1"/>
<line x1="488.87" y1="554.8" x2="488.87" y2="593.3" stroke="#ee8419" stroke-width="1"/>
<line x1="487.12" y1="487.4" x2="490.62" y2="487.4" stroke="#ee8419" stroke-width="1.1"/>
<line x1="487.12" y1="593.3" x2="490.62" y2="593.3" stroke="#ee8419" stroke-width="1.1"/>
<rect x="485.37" y="515.2" width="7" height="39.6" fill="rgb(217,125,0)" fill-opacity="0.4" stroke="rgb(217,125,0)" stroke-opacity="0.4" stroke-width="1"/>
<line x1="485.37" y1="543.3" x2="492.37" y2="543.3" stroke="#ee8419" stroke-width="1.2"/>
<line x1="498.24" y1="491.3" x2="498.24" y2="516.2" stroke="#ac1919" stroke-width="1"/>
<line x1="498.24" y1="555.4" x2="498.24" y2="597.6" stroke="#ac1919" stroke-width="1"/>
<line x1="496.49" y1="491.3" x2="499.99" y2="491.3" stroke="#ac1919" stroke-width="1.1"/>
<line x1="496.49" y1="597.6" x2="499.99" y2="597.6" stroke="#ac1919" stroke-width="1.1"/>
<rect x="494.74" y="516.2" width="7" height="39.2" fill="rgb(157,17,32)" fill-opacity="0.4" stroke="rgb(157,17,32)" stroke-opacity="0.4" stroke-width="1"/>
<line x1="494.74" y1="535.2" x2="501.74" y2="535.2" stroke="#ac1919" stroke-width="1.2"/>
<line x1="507.61" y1="533.8" x2="507.61" y2="538.7" stroke="#020080" stroke-width="1"/>
<line x1="507.61" y1="542.1" x2="507.61" y2="547.2" stroke="#020080" stroke-width="1"/>
<line x1="505.86" y1="533.8" x2="509.36" y2="533.8" stroke="#020080" stroke-width="1.1"/>
<line x1="505.86" y1="547.2" x2="509.36" y2="547.2" stroke="#020080" stroke-width="1.1"/>
<rect x="504.11" y="538.7" width="7" height="3.4" fill="rgb(0,0,137)" fill-opacity="0.4" stroke="rgb(0,0,137)" stroke-opacity="0.4" stroke-width="1"/>
<line x1="504.11" y1="540.3" x2="511.11" y2="540.3" stroke="#020080" stroke-width="1.2"/>
<line x1="516.98" y1="522.1" x2="516.98" y2="527.4" stroke="#da1632" stroke-width="1"/>
<line x1="516.98" y1="533.3" x2="516.98" y2="542.3" stroke="#da1632" stroke-width="1"/>
<line x1="515.23" y1="522.1" x2="518.73" y2="522.1" stroke="#da1632" stroke-width="1.1"/>
<line x1="515.23" y1="542.3" x2="518.73" y2="542.3" stroke="#da1632" stroke-width="1.1"/>
<rect x="513.48" y="527.4" width="7" height="5.9" fill="rgb(212,0,37)" fill-opacity="0.4" stroke="rgb(212,0,37)" stroke-opacity="0.4" stroke-width="1"/>
<line x1="513.48" y1="530.3" x2="520.48" y2="530.3" stroke="#da1632" stroke-width="1.2"/>
</g>
<g stroke="#555858" stroke-width="1.15" fill="none">
<rect x="38.45" y="479.3" width="328.05" height="174.9"/>
<rect x="391.5" y="479.3" width="131.6" height="174.9"/>
<line x1="35.15" y1="479.3" x2="38.45" y2="479.3"/>
<line x1="388.2" y1="479.3" x2="391.5" y2="479.3"/>
<line x1="35.15" y1="523.02" x2="38.45" y2="523.02"/>
<line x1="388.2" y1="523.02" x2="391.5" y2="523.02"/>
<line x1="35.15" y1="566.75" x2="38.45" y2="566.75"/>
<line x1="388.2" y1="566.75" x2="391.5" y2="566.75"/>
<line x1="35.15" y1="610.48" x2="38.45" y2="610.48"/>
<line x1="388.2" y1="610.48" x2="391.5" y2="610.48"/>
<line x1="35.15" y1="654.2" x2="38.45" y2="654.2"/>
<line x1="388.2" y1="654.2" x2="391.5" y2="654.2"/>
<line x1="38.45" y1="654.2" x2="38.45" y2="657.4"/>
<line x1="93.12" y1="654.2" x2="93.12" y2="657.4"/>
<line x1="147.8" y1="654.2" x2="147.8" y2="657.4"/>
<line x1="202.48" y1="654.2" x2="202.48" y2="657.4"/>
<line x1="257.15" y1="654.2" x2="257.15" y2="657.4"/>
<line x1="311.82" y1="654.2" x2="311.82" y2="657.4"/>
<line x1="366.5" y1="654.2" x2="366.5" y2="657.4"/>
<line x1="421" y1="654.2" x2="421" y2="657.2"/>
<line x1="493.55" y1="654.2" x2="493.55" y2="657.2"/>
</g>
<text x="202.47" y="473.8" text-anchor="middle" font-size="14.91" textLength="34.58" lengthAdjust="spacingAndGlyphs">(c) Q</text>
<text x="457.3" y="473.8" text-anchor="middle" font-size="14.91" textLength="75.73" lengthAdjust="spacingAndGlyphs">Mean Shift</text>
<text x="31.5" y="659.4" text-anchor="end" font-size="14" textLength="7.95" lengthAdjust="spacingAndGlyphs">8</text>
<text x="31.5" y="615.68" text-anchor="end" font-size="14" textLength="15.91" lengthAdjust="spacingAndGlyphs">10</text>
<text x="31.5" y="571.95" text-anchor="end" font-size="14" textLength="15.91" lengthAdjust="spacingAndGlyphs">12</text>
<text x="31.5" y="528.23" text-anchor="end" font-size="14" textLength="15.91" lengthAdjust="spacingAndGlyphs">13</text>
<text x="31.5" y="484.5" text-anchor="end" font-size="14" textLength="15.91" lengthAdjust="spacingAndGlyphs">15</text>
<text x="38.25" y="670.7" text-anchor="middle" font-size="14" textLength="31.81" lengthAdjust="spacingAndGlyphs">1960</text>
<text x="92.92" y="670.7" text-anchor="middle" font-size="14" textLength="31.81" lengthAdjust="spacingAndGlyphs">1980</text>
<text x="147.6" y="670.7" text-anchor="middle" font-size="14" textLength="31.81" lengthAdjust="spacingAndGlyphs">2000</text>
<text x="202.28" y="670.7" text-anchor="middle" font-size="14" textLength="31.81" lengthAdjust="spacingAndGlyphs">2020</text>
<text x="256.95" y="670.7" text-anchor="middle" font-size="14" textLength="31.81" lengthAdjust="spacingAndGlyphs">2040</text>
<text x="311.62" y="670.7" text-anchor="middle" font-size="14" textLength="31.81" lengthAdjust="spacingAndGlyphs">2060</text>
<text x="366.3" y="670.7" text-anchor="middle" font-size="14" textLength="31.81" lengthAdjust="spacingAndGlyphs">2080</text>
<text x="421" y="668" text-anchor="middle" font-size="11.7" textLength="11.15" lengthAdjust="spacingAndGlyphs">P1</text>
<text x="493.55" y="668" text-anchor="middle" font-size="11.7" textLength="11.15" lengthAdjust="spacingAndGlyphs">P2</text>
<text x="202.47" y="685.7" text-anchor="middle" font-size="12.1" textLength="24.3" lengthAdjust="spacingAndGlyphs">Year</text>
<g transform="translate(9.7 567.5) rotate(-90)"><text x="0" y="0" text-anchor="middle" font-size="11.86" textLength="24.92" lengthAdjust="spacingAndGlyphs">g/kg</text></g>
<rect x="123.1" y="710.4" width="79.8" height="174.9" fill="#f2f2f2"/>
<rect x="286.9" y="710.4" width="79.6" height="174.9" fill="#edf6f7"/>
<g clip-path="url(#cl3)" fill="none" stroke-width="2.4" stroke-linejoin="round" stroke-linecap="round">
<path d="M180.15 819.42 L184.97 818.62 L189.78 818.62 L194.6 816.53 L199.42 815.89 L203.43 816.53 L207.45 818.13 L211.46 821.83 L215.48 824.24 L220.3 826.16 L225.11 826.16 L229.93 826.65 L234.75 828.25 L239.57 829.86 L244.38 833.55 L250.47 835.69 L255.95 837.88 L261.42 836.61 L266.9 838.43 L272.37 838.98 L277.85 840.26 L283.32 840.8 L289.71 841.17 L295.18 841.53 L299.74 842.63 L305.22 843.91 L310.69 846.64 L316.17 848.1 L321.64 849.38 L327.12 851.2 L332.59 852.12 L338.07 851.75 L343.54 850.29 L349.01 849.38 L354.49 850.29 L359.05 852.48" stroke="#4b9bff"/>
<path d="M180.15 819.1 L186.57 817.81 L191.39 816.21 L196.21 814.92 L201.02 814.6 L204.24 813.32 L207.45 814.92 L211.46 812.19 L215.48 811.07 L220.3 810.1 L225.11 809.78 L229.13 806.57 L234.75 805.29 L240.37 803.36 L245.99 804.64 L250.47 806.13 L255.95 807.41 L261.42 808.69 L267.81 808.69 L272.37 811.06 L277.85 812.88 L283.32 815.26 L289.71 815.62 L294.27 817.81 L299.74 821.09 L303.39 823.28 L307.96 826.57 L313.43 826.93 L317.99 826.57 L323.47 826.57 L328.94 825.66 L334.42 826.2 L339.89 825.66 L345.36 827.48 L349.93 828.76 L354.49 830.58 L359.05 831.13" stroke="#32877a"/>
<path d="M180.15 818.62 L184.97 815.4 L189.78 812.19 L194.6 807.37 L199.42 805.29 L204.24 804.16 L209.05 804.64 L213.87 804.16 L218.69 803.04 L223.51 801.43 L228.33 799.34 L233.14 797.26 L237.96 794.53 L242.78 793.72 L250.47 791.53 L255.95 790.99 L261.42 788.25 L266.9 788.61 L272.37 786.79 L277.85 787.88 L281.5 784.6 L286.06 783.14 L289.71 782.77 L294.27 784.23 L299.74 785.51 L304.31 786.79 L308.87 788.61 L313.43 787.34 L317.99 787.34 L322.55 787.88 L326.2 787.34 L330.77 789.16 L336.24 790.44 L340.8 791.9 L345.36 791.53 L350.84 790.99 L354.49 790.99 L359.05 791.53" stroke="#ee8419"/>
<path d="M48.44 858.25 L52.45 857.13 L56.68 856.02 L62.52 854.85 L68.36 854.04 L73.03 854.27 L75.36 855.44 L78.87 856.02 L82.37 854.27 L87.04 851.93 L91.72 850.77 L96.39 849.6 L101.06 847.85 L105.73 847.61 L109.23 848.43 L112.74 846.68 L117.41 845.74 L120.91 846.09 L125 842.59 L127.13 841.39 L130.34 838.98 L134.35 836.89 L138.37 834.97 L142.38 833.68 L144.01 834.19 L148.03 833.55 L152.04 830.66 L156.06 827.45 L159.27 824.24 L163.29 821.02 L167.3 818.62 L172.12 816.53 L175.33 817.49 L178.54 819.42 L181.75 817.01 L186.57 815.4 L191.39 814.6 L195.4 811.39 L199.42 809.46 L204.24 807.86 L209.05 806.57 L213.87 805.77 L217.89 806.57 L221.9 806.89 L226.72 807.86 L231.54 808.98 L236.35 810.59 L240.37 811.71 L244.38 810.59 L250.47 810.51 L255.95 811.06 L259.6 812.88 L263.25 815.26 L267.81 815.99 L272.37 818.36 L276.93 821.09 L281.5 818.91 L286.97 819.27 L292.45 819.64 L297.92 820.18 L303.39 820.18 L308.87 819.27 L315.26 817.08 L319.82 818.91 L325.29 820.18 L330.77 823.28 L336.24 824.74 L341.72 825.11 L345.36 825.66 L349.93 824.38 L354.49 825.66 L359.05 826.93" stroke="#ac1919"/>
<path d="M47.92 856.96 L56.68 856.61 L68.36 856.26 L77.7 856.26 L84.71 856.02 L91.72 856.96 L98.72 857.42 L105.73 857.42 L112.74 856.61 L119.74 856.02 L125 855.79 L127.93 855.04 L134.35 854.24 L139.17 853.43 L143.19 852.31 L146.42 852.34 L152.85 852.34 L159.27 852.34 L165.69 851.22 L172.12 849.93 L178.54 849.13 L184.97 848 L191.39 847.04 L197.81 846.72 L204.24 845.92 L210.66 845.43 L217.08 845.11 L223.51 845.11 L229.93 844.79 L236.35 844.79 L242.78 844.79 L250.47 843.91 L255.95 843.91 L261.42 843.91 L266.9 843.36 L272.37 842.63 L277.85 843.36 L283.32 844.45 L288.8 845.18 L294.27 845.18 L299.74 844.82 L305.22 844.82 L310.69 844.82 L316.17 843.91 L321.64 843.91 L327.12 844.45 L332.59 844.45 L338.07 844.82 L343.54 844.45 L349.01 844.82 L354.49 845.18 L359.05 844.82" stroke="#020080"/>
<path d="M47.92 858.94 L56.68 858.36 L62.52 857.42 L68.36 857.77 L73.03 858.94 L77.7 859.76 L83.54 859.53 L91.72 860.46 L96.39 859.29 L103.39 859.29 L110.4 858.12 L117.41 859.53 L125 860.11 L127.93 860.34 L132.75 859.86 L137.57 859.05 L142.38 858.25 L146.42 857.16 L152.85 856.03 L159.27 855.07 L165.69 853.14 L172.12 851.86 L178.54 850.73 L184.97 849.13 L191.39 848.33 L197.81 848 L204.24 847.52 L210.66 846.72 L217.08 845.92 L223.51 845.11 L229.93 844.31 L236.35 843.83 L242.78 843.83 L250.47 844.45 L255.95 844.82 L261.42 844.45 L266.9 843.91 L272.37 842.63 L277.85 842.08 L283.32 842.08 L288.8 842.99 L294.27 843.91 L299.74 844.45 L305.22 844.82 L310.69 845.18 L316.17 845.73 L321.64 845.18 L327.12 846.28 L332.59 847.01 L338.07 848.47 L343.54 849.93 L349.01 848.83 L354.49 848.83 L359.05 848.83" stroke="#da1632"/>
</g>
<rect x="391.5" y="710.4" width="59.2" height="174.9" fill="#f2f2f2"/>
<rect x="464.3" y="710.4" width="58.8" height="174.9" fill="#e6f4f5"/>
<g clip-path="url(#cb3)">
<line x1="397.57" y1="772.3" x2="397.57" y2="810.3" stroke="#4b9bff" stroke-width="1"/>
<line x1="397.57" y1="842.3" x2="397.57" y2="877.6" stroke="#4b9bff" stroke-width="1"/>
<line x1="395.82" y1="772.3" x2="399.32" y2="772.3" stroke="#4b9bff" stroke-width="1.1"/>
<line x1="395.82" y1="877.6" x2="399.32" y2="877.6" stroke="#4b9bff" stroke-width="1.1"/>
<rect x="394.07" y="810.3" width="7" height="32" fill="rgb(37,150,250)" fill-opacity="0.4" stroke="rgb(37,150,250)" stroke-opacity="0.4" stroke-width="1"/>
<line x1="394.07" y1="827.6" x2="401.07" y2="827.6" stroke="#4b9bff" stroke-width="1.2"/>
<line x1="406.94" y1="767.8" x2="406.94" y2="810.3" stroke="#32877a" stroke-width="1"/>
<line x1="406.94" y1="841.7" x2="406.94" y2="876" stroke="#32877a" stroke-width="1"/>
<line x1="405.19" y1="767.8" x2="408.69" y2="767.8" stroke="#32877a" stroke-width="1.1"/>
<line x1="405.19" y1="876" x2="408.69" y2="876" stroke="#32877a" stroke-width="1.1"/>
<rect x="403.44" y="810.3" width="7" height="31.4" fill="rgb(25,150,125)" fill-opacity="0.4" stroke="rgb(25,150,125)" stroke-opacity="0.4" stroke-width="1"/>
<line x1="403.44" y1="830.1" x2="410.44" y2="830.1" stroke="#32877a" stroke-width="1.2"/>
<line x1="416.31" y1="791.3" x2="416.31" y2="809" stroke="#ee8419" stroke-width="1"/>
<line x1="416.31" y1="835.8" x2="416.31" y2="856" stroke="#ee8419" stroke-width="1"/>
<line x1="414.56" y1="791.3" x2="418.06" y2="791.3" stroke="#ee8419" stroke-width="1.1"/>
<line x1="414.56" y1="856" x2="418.06" y2="856" stroke="#ee8419" stroke-width="1.1"/>
<rect x="412.81" y="809" width="7" height="26.8" fill="rgb(217,125,0)" fill-opacity="0.4" stroke="rgb(217,125,0)" stroke-opacity="0.4" stroke-width="1"/>
<line x1="412.81" y1="828.6" x2="419.81" y2="828.6" stroke="#ee8419" stroke-width="1.2"/>
<line x1="425.69" y1="767.8" x2="425.69" y2="809.4" stroke="#ac1919" stroke-width="1"/>
<line x1="425.69" y1="842.3" x2="425.69" y2="876.6" stroke="#ac1919" stroke-width="1"/>
<line x1="423.94" y1="767.8" x2="427.44" y2="767.8" stroke="#ac1919" stroke-width="1.1"/>
<line x1="423.94" y1="876.6" x2="427.44" y2="876.6" stroke="#ac1919" stroke-width="1.1"/>
<rect x="422.19" y="809.4" width="7" height="32.9" fill="rgb(157,17,32)" fill-opacity="0.4" stroke="rgb(157,17,32)" stroke-opacity="0.4" stroke-width="1"/>
<line x1="422.19" y1="829.2" x2="429.19" y2="829.2" stroke="#ac1919" stroke-width="1.2"/>
<line x1="435.06" y1="846.6" x2="435.06" y2="849.7" stroke="#020080" stroke-width="1"/>
<line x1="435.06" y1="853.1" x2="435.06" y2="856" stroke="#020080" stroke-width="1"/>
<line x1="433.31" y1="846.6" x2="436.81" y2="846.6" stroke="#020080" stroke-width="1.1"/>
<line x1="433.31" y1="856" x2="436.81" y2="856" stroke="#020080" stroke-width="1.1"/>
<rect x="431.56" y="849.7" width="7" height="3.4" fill="rgb(0,0,137)" fill-opacity="0.4" stroke="rgb(0,0,137)" stroke-opacity="0.4" stroke-width="1"/>
<line x1="431.56" y1="851.5" x2="438.56" y2="851.5" stroke="#020080" stroke-width="1.2"/>
<line x1="444.43" y1="850.1" x2="444.43" y2="853.1" stroke="#da1632" stroke-width="1"/>
<line x1="444.43" y1="856" x2="444.43" y2="859.5" stroke="#da1632" stroke-width="1"/>
<line x1="442.68" y1="850.1" x2="446.18" y2="850.1" stroke="#da1632" stroke-width="1.1"/>
<line x1="442.68" y1="859.5" x2="446.18" y2="859.5" stroke="#da1632" stroke-width="1.1"/>
<rect x="440.93" y="853.1" width="7" height="2.9" fill="rgb(212,0,37)" fill-opacity="0.4" stroke="rgb(212,0,37)" stroke-opacity="0.4" stroke-width="1"/>
<line x1="440.93" y1="854.5" x2="447.93" y2="854.5" stroke="#da1632" stroke-width="1.2"/>
<line x1="470.12" y1="810.5" x2="470.12" y2="825" stroke="#4b9bff" stroke-width="1"/>
<line x1="470.12" y1="866.2" x2="470.12" y2="890.3" stroke="#4b9bff" stroke-width="1"/>
<line x1="468.38" y1="810.5" x2="471.88" y2="810.5" stroke="#4b9bff" stroke-width="1.1"/>
<rect x="466.62" y="825" width="7" height="41.2" fill="rgb(37,150,250)" fill-opacity="0.4" stroke="rgb(37,150,250)" stroke-opacity="0.4" stroke-width="1"/>
<line x1="466.62" y1="850.5" x2="473.62" y2="850.5" stroke="#4b9bff" stroke-width="1.2"/>
<line x1="479.5" y1="777.2" x2="479.5" y2="794.3" stroke="#32877a" stroke-width="1"/>
<line x1="479.5" y1="852.5" x2="479.5" y2="874.3" stroke="#32877a" stroke-width="1"/>
<line x1="477.75" y1="777.2" x2="481.25" y2="777.2" stroke="#32877a" stroke-width="1.1"/>
<line x1="477.75" y1="874.3" x2="481.25" y2="874.3" stroke="#32877a" stroke-width="1.1"/>
<rect x="476" y="794.3" width="7" height="58.2" fill="rgb(25,150,125)" fill-opacity="0.4" stroke="rgb(25,150,125)" stroke-opacity="0.4" stroke-width="1"/>
<line x1="476" y1="828.6" x2="483" y2="828.6" stroke="#32877a" stroke-width="1.2"/>
<line x1="488.87" y1="722.3" x2="488.87" y2="755" stroke="#ee8419" stroke-width="1"/>
<line x1="488.87" y1="824.6" x2="488.87" y2="859.4" stroke="#ee8419" stroke-width="1"/>
<line x1="487.12" y1="722.3" x2="490.62" y2="722.3" stroke="#ee8419" stroke-width="1.1"/>
<line x1="487.12" y1="859.4" x2="490.62" y2="859.4" stroke="#ee8419" stroke-width="1.1"/>
<rect x="485.37" y="755" width="7" height="69.6" fill="rgb(217,125,0)" fill-opacity="0.4" stroke="rgb(217,125,0)" stroke-opacity="0.4" stroke-width="1"/>
<line x1="485.37" y1="783.5" x2="492.37" y2="783.5" stroke="#ee8419" stroke-width="1.2"/>
<line x1="498.24" y1="752.5" x2="498.24" y2="789.4" stroke="#ac1919" stroke-width="1"/>
<line x1="498.24" y1="848.2" x2="498.24" y2="890.3" stroke="#ac1919" stroke-width="1"/>
<line x1="496.49" y1="752.5" x2="499.99" y2="752.5" stroke="#ac1919" stroke-width="1.1"/>
<rect x="494.74" y="789.4" width="7" height="58.8" fill="rgb(157,17,32)" fill-opacity="0.4" stroke="rgb(157,17,32)" stroke-opacity="0.4" stroke-width="1"/>
<line x1="494.74" y1="828.6" x2="501.74" y2="828.6" stroke="#ac1919" stroke-width="1.2"/>
<line x1="507.61" y1="839.7" x2="507.61" y2="842.9" stroke="#020080" stroke-width="1"/>
<line x1="507.61" y1="846.6" x2="507.61" y2="850.5" stroke="#020080" stroke-width="1"/>
<line x1="505.86" y1="839.7" x2="509.36" y2="839.7" stroke="#020080" stroke-width="1.1"/>
<line x1="505.86" y1="850.5" x2="509.36" y2="850.5" stroke="#020080" stroke-width="1.1"/>
<rect x="504.11" y="842.9" width="7" height="3.7" fill="rgb(0,0,137)" fill-opacity="0.4" stroke="rgb(0,0,137)" stroke-opacity="0.4" stroke-width="1"/>
<line x1="504.11" y1="844.8" x2="511.11" y2="844.8" stroke="#020080" stroke-width="1.2"/>
<line x1="516.98" y1="840.7" x2="516.98" y2="845.2" stroke="#da1632" stroke-width="1"/>
<line x1="516.98" y1="848.6" x2="516.98" y2="852.1" stroke="#da1632" stroke-width="1"/>
<line x1="515.23" y1="840.7" x2="518.73" y2="840.7" stroke="#da1632" stroke-width="1.1"/>
<line x1="515.23" y1="852.1" x2="518.73" y2="852.1" stroke="#da1632" stroke-width="1.1"/>
<rect x="513.48" y="845.2" width="7" height="3.4" fill="rgb(212,0,37)" fill-opacity="0.4" stroke="rgb(212,0,37)" stroke-opacity="0.4" stroke-width="1"/>
<line x1="513.48" y1="846.6" x2="520.48" y2="846.6" stroke="#da1632" stroke-width="1.2"/>
</g>
<g stroke="#555858" stroke-width="1.15" fill="none">
<rect x="38.45" y="710.4" width="328.05" height="174.9"/>
<rect x="391.5" y="710.4" width="131.6" height="174.9"/>
<line x1="35.15" y1="710.4" x2="38.45" y2="710.4"/>
<line x1="388.2" y1="710.4" x2="391.5" y2="710.4"/>
<line x1="35.15" y1="754.12" x2="38.45" y2="754.12"/>
<line x1="388.2" y1="745.38" x2="391.5" y2="745.38"/>
<line x1="35.15" y1="797.85" x2="38.45" y2="797.85"/>
<line x1="388.2" y1="797.85" x2="391.5" y2="797.85"/>
<line x1="35.15" y1="841.58" x2="38.45" y2="841.58"/>
<line x1="388.2" y1="850.32" x2="391.5" y2="850.32"/>
<line x1="35.15" y1="885.3" x2="38.45" y2="885.3"/>
<line x1="388.2" y1="885.3" x2="391.5" y2="885.3"/>
<line x1="38.45" y1="885.3" x2="38.45" y2="888.5"/>
<line x1="93.12" y1="885.3" x2="93.12" y2="888.5"/>
<line x1="147.8" y1="885.3" x2="147.8" y2="888.5"/>
<line x1="202.48" y1="885.3" x2="202.48" y2="888.5"/>
<line x1="257.15" y1="885.3" x2="257.15" y2="888.5"/>
<line x1="311.82" y1="885.3" x2="311.82" y2="888.5"/>
<line x1="366.5" y1="885.3" x2="366.5" y2="888.5"/>
<line x1="421" y1="885.3" x2="421" y2="888.3"/>
<line x1="493.55" y1="885.3" x2="493.55" y2="888.3"/>
</g>
<text x="202.47" y="704.9" text-anchor="middle" font-size="14.91" textLength="56.43" lengthAdjust="spacingAndGlyphs">(d) AOD</text>
<text x="457.3" y="704.9" text-anchor="middle" font-size="14.91" textLength="75.73" lengthAdjust="spacingAndGlyphs">Mean Shift</text>
<text x="31.5" y="890.5" text-anchor="end" font-size="14" textLength="19.88" lengthAdjust="spacingAndGlyphs">0.2</text>
<text x="31.5" y="846.77" text-anchor="end" font-size="14" textLength="19.88" lengthAdjust="spacingAndGlyphs">0.5</text>
<text x="31.5" y="803.05" text-anchor="end" font-size="14" textLength="19.88" lengthAdjust="spacingAndGlyphs">0.7</text>
<text x="31.5" y="759.33" text-anchor="end" font-size="14" textLength="19.88" lengthAdjust="spacingAndGlyphs">0.9</text>
<text x="31.5" y="715.6" text-anchor="end" font-size="14" textLength="19.88" lengthAdjust="spacingAndGlyphs">1.2</text>
<text x="38.25" y="901.8" text-anchor="middle" font-size="14" textLength="31.81" lengthAdjust="spacingAndGlyphs">1960</text>
<text x="92.92" y="901.8" text-anchor="middle" font-size="14" textLength="31.81" lengthAdjust="spacingAndGlyphs">1980</text>
<text x="147.6" y="901.8" text-anchor="middle" font-size="14" textLength="31.81" lengthAdjust="spacingAndGlyphs">2000</text>
<text x="202.28" y="901.8" text-anchor="middle" font-size="14" textLength="31.81" lengthAdjust="spacingAndGlyphs">2020</text>
<text x="256.95" y="901.8" text-anchor="middle" font-size="14" textLength="31.81" lengthAdjust="spacingAndGlyphs">2040</text>
<text x="311.62" y="901.8" text-anchor="middle" font-size="14" textLength="31.81" lengthAdjust="spacingAndGlyphs">2060</text>
<text x="366.3" y="901.8" text-anchor="middle" font-size="14" textLength="31.81" lengthAdjust="spacingAndGlyphs">2080</text>
<text x="421" y="899.1" text-anchor="middle" font-size="11.7" textLength="11.15" lengthAdjust="spacingAndGlyphs">P1</text>
<text x="493.55" y="899.1" text-anchor="middle" font-size="11.7" textLength="11.15" lengthAdjust="spacingAndGlyphs">P2</text>
<text x="202.47" y="916.8" text-anchor="middle" font-size="12.1" textLength="24.3" lengthAdjust="spacingAndGlyphs">Year</text>
<rect x="536.5" y="12.6" width="147.3" height="99.9" rx="2.5" fill="#fdfdfd" stroke="#cfcfcf" stroke-width="1"/>
<line x1="540.2" y1="21.8" x2="563.9" y2="21.8" stroke="#4b9bff" stroke-width="2.3"/>
<text x="571.8" y="25.7" text-anchor="start" font-size="12.32" textLength="86.6" lengthAdjust="spacingAndGlyphs">CMIP6 SSP1-2.6</text>
<line x1="540.2" y1="37.84" x2="563.9" y2="37.84" stroke="#32877a" stroke-width="2.3"/>
<text x="571.8" y="41.74" text-anchor="start" font-size="12.32" textLength="86.6" lengthAdjust="spacingAndGlyphs">CMIP6 SSP2-4.5</text>
<line x1="540.2" y1="53.88" x2="563.9" y2="53.88" stroke="#ee8419" stroke-width="2.3"/>
<text x="571.8" y="57.78" text-anchor="start" font-size="12.32" textLength="86.6" lengthAdjust="spacingAndGlyphs">CMIP6 SSP3-7.0</text>
<line x1="540.2" y1="69.92" x2="563.9" y2="69.92" stroke="#ac1919" stroke-width="2.3"/>
<text x="571.8" y="73.82" text-anchor="start" font-size="12.32" textLength="86.6" lengthAdjust="spacingAndGlyphs">CMIP6 SSP5-8.5</text>
<line x1="540.2" y1="85.96" x2="563.9" y2="85.96" stroke="#020080" stroke-width="2.3"/>
<text x="571.8" y="89.86" text-anchor="start" font-size="12.32" textLength="98.1" lengthAdjust="spacingAndGlyphs">CESM1-LE RCP8.5</text>
<line x1="540.2" y1="102" x2="563.9" y2="102" stroke="#da1632" stroke-width="2.3"/>
<text x="571.8" y="105.9" text-anchor="start" font-size="12.32" textLength="107.71" lengthAdjust="spacingAndGlyphs">CESM2-LE SSP3-7.0</text>
</svg></body></html>
